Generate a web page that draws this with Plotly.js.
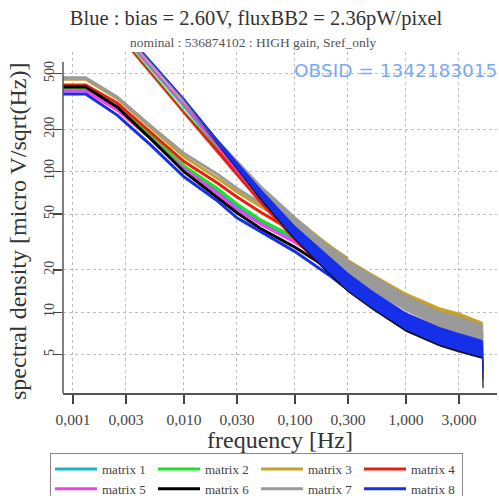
<!DOCTYPE html>
<html>
<head>
<meta charset="utf-8">
<script src="https://cdn.plot.ly/plotly-3.0.1.min.js"></script>
<style>html,body{margin:0;padding:0;background:#fff;}#chart{width:499px;height:496px;}</style>
</head>
<body>
<div id="chart"></div>
<script>
// ---- data ----
const names = ["matrix 1","matrix 2","matrix 3","matrix 4","matrix 5","matrix 6","matrix 7","matrix 8"];
const colors = ["#19b4c8","#22e022","#c8a028","#e82010","#f040f0","#000000","#9a9a9a","#1530e8"];

// smooth (binned) spectra
const freqSmooth = [0.0008,0.0013,0.0025,0.005,0.01,0.02,0.03,0.05,0.1,0.2,0.3];
const smooth1 = [381,381,280,176,107,73,57,44,33,23,18.5];
const smooth2 = [392,392,288,180,110,76,59,45,34,23.5,19];
const smooth3 = [455,455,332,206,128,90,72,56,40,28.5,23];
const smooth4 = [414,414,308,190,118,83,66,51,37,26,21];
const smooth5 = [375,375,275,172,104,70,54,42,31.5,22,17.5];
const smooth6 = [401,401,289,172,100,66,51,39,29,20.5,16.5];
const smooth7 = [467,467,340,212,135,96,76,59,42,30,24];
const smooth8 = [357,357,253,155,92,62,47,37,27,18.5,14.5];

// noisy (full resolution) spectra: upper and lower envelope of the noise
const freqNoisy = [0.003,0.005,0.01,0.02,0.03,0.05,0.1,0.2,0.3,0.5,1,2,3,4.9,4.95];
const noisyHi1 = [883,553,296,157,111,70,39.5,23.8,18,13.7,9.7,7.7,6.9,6.1,3.8];
const noisyLo1 = [857,537,284,147,99,62,32.5,19.4,14.5,11,7.8,6.2,5.55,4.95,3.8];
const noisyHi2 = [842,523,273,148,105,67,38.5,23.6,18,13.8,9.8,7.8,7,6.2,4];
const noisyLo2 = [818,507,263,138,95,59,32.5,19.2,14.6,11.1,7.9,6.3,5.7,5.1,4];
const noisyHi3 = [893,568,306,166,119,78,47.5,30.5,23.8,18.7,13.7,10.8,9.9,8.5,6.5];
const noisyLo3 = [867,552,294,154,105,66,38.5,23.5,18.2,14.3,10.7,8.5,7.8,6.9,6.5];
const noisyHi4 = [823,510,267,145,103,66,38,23.3,17.8,13.7,9.8,7.8,7,6.2,4];
const noisyLo4 = [799,494,257,135,93,58,32,19,14.4,11,7.9,6.3,5.7,5.1,4];
const noisyHi5 = [903,568,305,160,112,70,39.5,23.6,17.8,13.5,9.5,7.5,6.7,6,3.3];
const noisyLo5 = [877,552,295,150,100,62,32.5,19.1,14.3,10.8,7.6,6,5.35,4.8,3.3];
const noisyHi6 = [954,609,328,168,116,72,40,23.5,17.5,13,9.1,7.2,6.5,5.8,2.9];
const noisyLo6 = [926,591,316,156,104,62,32.7,18.8,14,10.45,7.3,5.75,5.2,4.68,2.9];
const noisyHi7 = [944,599,327,171,122,79,48,30,23.3,18.2,13.2,10.1,9.3,8.1,6];
const noisyLo7 = [916,581,313,159,108,67,38.5,23.4,18,14,10.2,7.8,7.2,6.2,6];
const noisyHi8 = [982,619,334,170,118,74,41,25,19,14.1,9.9,7.8,7.1,6.3,3.7];
const noisyLo8 = [966,609,326,160,106,64,33.5,19.3,14.3,10.7,7.5,5.9,5.35,4.8,3.7];

const xTickVals = [0.001,0.003,0.01,0.03,0.1,0.3,1,3];
const xTickText = ["0,001","0,003","0,010","0,030","0,100","0,300","1,000","3,000"];
const yTickVals = [5,10,20,50,100,200,500];
const yTickText = ["5","10","20","50","100","200","500"];

const smooths = [smooth1,smooth2,smooth3,smooth4,smooth5,smooth6,smooth7,smooth8];
const noisyHi = [noisyHi1,noisyHi2,noisyHi3,noisyHi4,noisyHi5,noisyHi6,noisyHi7,noisyHi8];
const noisyLo = [noisyLo1,noisyLo2,noisyLo3,noisyLo4,noisyLo5,noisyLo6,noisyLo7,noisyLo8];

const serif = "Liberation Serif, Times New Roman, serif";
const traces = [];
for (let i = 0; i < 8; i++) {
  traces.push({
    x: freqSmooth, y: smooths[i], type: "scatter", mode: "lines",
    name: names[i], legendgroup: "g" + i,
    line: {color: colors[i], width: 3}
  });
}
for (let i = 0; i < 8; i++) {
  traces.push({
    x: freqNoisy.concat(freqNoisy.slice().reverse()),
    y: noisyHi[i].concat(noisyLo[i].slice().reverse()),
    type: "scatter", mode: "lines", fill: "toself",
    fillcolor: colors[i], name: names[i], legendgroup: "g" + i, showlegend: false,
    line: {color: colors[i], width: 0.7}
  });
}

const layout = {
  width: 499, height: 496,
  margin: {l: 63, r: 2, t: 52, b: 103},
  paper_bgcolor: "#ffffff", plot_bgcolor: "#ffffff",
  title: {
    text: "Blue : bias = 2.60V, fluxBB2 = 2.36pW/pixel",
    font: {family: serif, size: 20.5, color: "#333"},
    x: 0.513, xanchor: "center", y: 0.9637, yanchor: "middle"
  },
  xaxis: {
    type: "log", range: [-3.09, 0.82],
    tickvals: xTickVals, ticktext: xTickText,
    ticks: "outside", ticklen: 9, tickwidth: 1.2, tickcolor: "#444",
    ticklabelstandoff: 3,
    showline: true, linecolor: "#555", linewidth: 1.5,
    showgrid: true, gridcolor: "#bdbdbd", griddash: "dot", gridwidth: 1,
    zeroline: false,
    tickfont: {family: serif, size: 15.5, color: "#444"},
    title: {text: "frequency [Hz]", font: {family: serif, size: 24, color: "#333"}, standoff: 2}
  },
  yaxis: {
    type: "log", range: [0.425, 2.852],
    tickvals: yTickVals, ticktext: yTickText, tickangle: -90,
    ticks: "outside", ticklen: 9, tickwidth: 1.2, tickcolor: "#444",
    ticklabelstandoff: -7,
    showline: false,
    showgrid: true, gridcolor: "#bdbdbd", griddash: "dot", gridwidth: 1,
    zeroline: false,
    tickfont: {family: serif, size: 14, color: "#444"}
  },
  shapes: [{type: "line", xref: "paper", yref: "paper", x0: 0, x1: 0, y0: 0, y1: 0.9707,
            line: {color: "#555", width: 1.5}}],
  annotations: [
    {text: "spectral density [micro V/sqrt(Hz)]", xref: "paper", yref: "paper",
     x: -0.1037, y: 0.4751, xanchor: "center", yanchor: "middle", textangle: -90, showarrow: false,
     font: {family: serif, size: 24, color: "#333"}},
    {text: "nominal : 536874102 : HIGH gain, Sref_only", xref: "paper", yref: "paper",
     x: 0.44, y: 1.0293, xanchor: "center", yanchor: "middle", showarrow: false,
     font: {family: serif, size: 13.5, color: "#555"}},
    {text: "OBSID = 1342183015", xref: "paper", yref: "paper",
     x: 1.005, y: 0.947, xanchor: "right", yanchor: "middle", showarrow: false,
     font: {family: "DejaVu Sans, sans-serif", size: 18.5, color: "#7aaaf8"}}
  ],
  legend: {
    orientation: "h", xref: "container", x: 0.1002, xanchor: "left",
    yref: "container", y: 0.0867, yanchor: "top",
    bordercolor: "#888", borderwidth: 1, bgcolor: "#ffffff",
    font: {family: serif, size: 13, color: "#444"},
    entrywidth: 46, entrywidthmode: "pixels", tracegroupgap: 0, itemwidth: 42
  },
  showlegend: true
};

Plotly.newPlot("chart", traces, layout, {displayModeBar: false, staticPlot: true});
</script>
</body>
</html>
